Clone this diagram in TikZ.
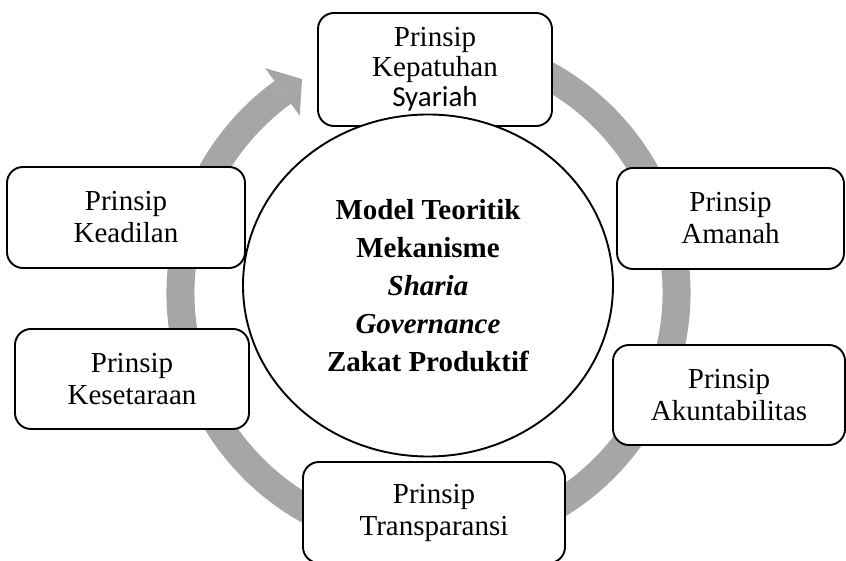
\documentclass[tikz,border=0pt]{standalone}
\usepackage{fontspec}
\setmainfont{Liberation Serif}
\newfontfamily\carlito{Carlito}
\usetikzlibrary{shapes.geometric,calc}
\definecolor{ringgray}{HTML}{A6A6A6}
\begin{document}
\begin{tikzpicture}[x=1pt,y=1pt]
        % Define styles for shapes
        \tikzset{
            prinsip/.style={draw, line width=1.9pt, rounded corners=16pt, fill=white, align=center, inner sep=0pt, font=\fontsize{29}{32}\selectfont},
            pusat/.style={draw, ellipse, line width=1.9pt, fill=white, align=center, inner sep=0pt, minimum width=370pt, minimum height=342pt, font=\bfseries\fontsize{29}{38}\selectfont},
            putaran/.style={draw=ringgray, line width=28pt}
        }
        \useasboundingbox (0,0) rectangle (846,560);
        % Grey circular arrow behind the boxes
        \coordinate (poros) at (428.5,267);
        \draw[putaran] ($(poros)+(80:248pt)$) arc[start angle=80, end angle=-234, radius=248pt];
        \fill[ringgray] ($(poros)+(126:278pt)$) -- ($(poros)+(120.6:248.6pt)$) -- ($(poros)+(126:219pt)$) -- cycle;
        % Draw the principle boxes
        \node[prinsip, minimum width=234pt, minimum height=113pt, font=\fontsize{29}{30}\selectfont] (kepatuhan) at (435,490.5) {Prinsip\\Kepatuhan\\{\carlito Syariah}};
        \node[prinsip, minimum width=238pt, minimum height=101pt] (keadilan) at (126,342.5) {Prinsip\\Keadilan};
        \node[prinsip, minimum width=227pt, minimum height=101pt] (amanah) at (730.5,341.5) {Prinsip\\Amanah};
        \node[prinsip, minimum width=234pt, minimum height=100pt] (kesetaraan) at (132,181) {Prinsip\\Kesetaraan};
        \node[prinsip, minimum width=232pt, minimum height=100pt] (akuntabilitas) at (729,165) {Prinsip\\Akuntabilitas};
        \node[prinsip, minimum width=262pt, minimum height=101pt] (transparansi) at (434,47.5) {Prinsip\\Transparansi};
        % Central ellipse
        \node[pusat] (model) at (428,274.5) {Model Teoritik\\Mekanisme\\\textit{Sharia}\\\textit{Governance}\\Zakat Produktif};
\end{tikzpicture}
\end{document}
